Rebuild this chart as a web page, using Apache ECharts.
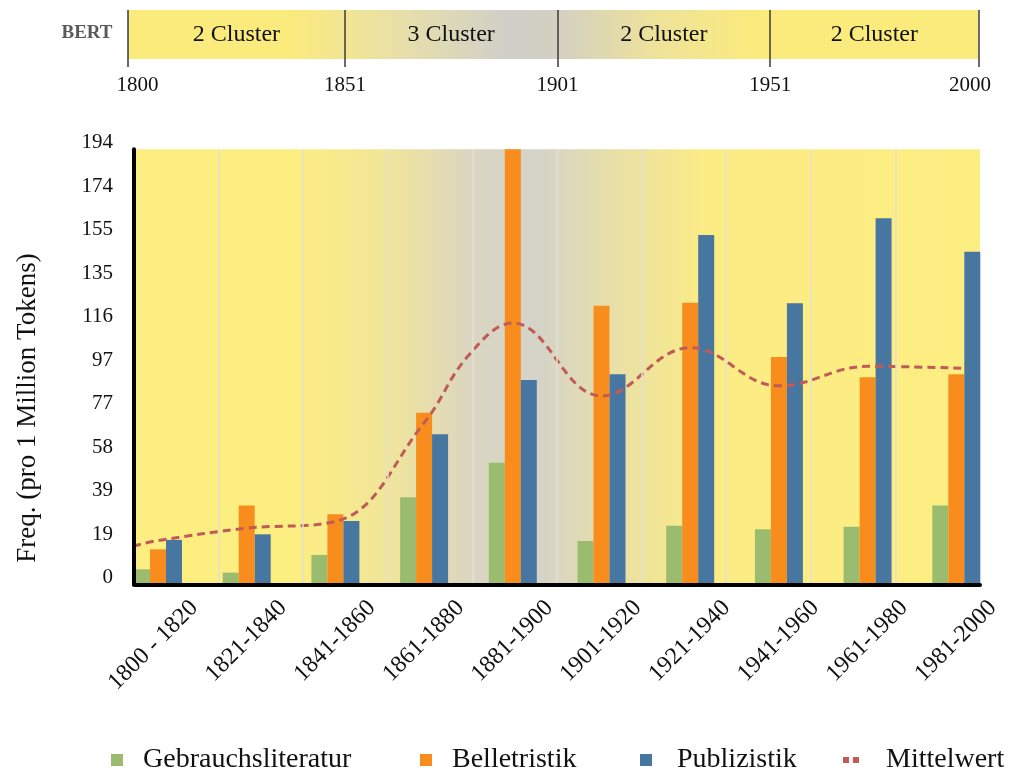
<!DOCTYPE html>
<html>
<head>
<meta charset="utf-8">
<title>BERT Cluster – Frequenz pro Zeitraum</title>
<script src="https://cdn.jsdelivr.net/npm/echarts@6/dist/echarts.min.js"></script>
<style>
  html, body { margin: 0; padding: 0; background: #ffffff; }
  #chart { width: 1011px; height: 773px; }
</style>
</head>
<body>
<div id="chart"></div>
<script>
// ---- data ----
const categories = ['1800 - 1820', '1821-1840', '1841-1860', '1861-1880', '1881-1900',
                    '1901-1920', '1921-1940', '1941-1960', '1961-1980', '1981-2000'];
const gebrauchsliteratur = [6.7, 5.2, 13.1, 38.8, 54.2, 19.3, 26.1, 24.5, 25.7, 35.1];
const belletristik       = [15.6, 35.1, 31.2, 76.5, 194, 124.2, 125.6, 101.4, 92.3, 93.7];
const publizistik        = [19.8, 22.3, 28.2, 66.9, 91.1, 93.7, 155.8, 125.3, 163.2, 148.3];
// Mittelwert curve as [position on the period scale (0 = first period), value]
const mittelwert = [[-0.28, 17], [0, 19.5], [1, 25], [2, 28], [3, 72], [3.5, 102], [4, 116.5],
                    [5, 84], [6, 105.5], [7, 88.5], [8, 97.2], [9.12, 96.3]];
const yTickLabels = [0, 19, 39, 58, 77, 97, 116, 135, 155, 174, 194];
const bandYears = [1800, 1851, 1901, 1951, 2000];
const bandClusters = ['2 Cluster', '3 Cluster', '2 Cluster', '2 Cluster'];

// ---- styling ----
const SERIF = '"Liberation Serif", "Times New Roman", serif';
const INK = '#111111';
const Y_MAX = 194, Y_STEP = 19.4;
const COLORS = { green: '#9BBB6E', orange: '#F88D1E', blue: '#4776A1', mean: '#C05B57' };
const LABEL_SHIFT = 0.41;        // rotated period labels sit a little right of each group

const YELLOW = '#FDEE82', GREY = '#D5D3C8';
const plotGradient = new echarts.graphic.LinearGradient(0, 0, 1, 0, [
  { offset: 0, color: YELLOW }, { offset: 0.19, color: YELLOW },
  { offset: 0.30, color: '#F1E59A' }, { offset: 0.40, color: '#DAD6C2' },
  { offset: 0.48, color: GREY }, { offset: 0.57, color: '#E9E0A6' },
  { offset: 0.68, color: '#FCEC84' }, { offset: 1, color: YELLOW }
]);
const bandGradient = new echarts.graphic.LinearGradient(0, 0, 1, 0, [
  { offset: 0, color: '#FBEB7D' }, { offset: 0.19, color: '#FBEB7D' },
  { offset: 0.33, color: '#E6DEAC' }, { offset: 0.45, color: '#D0CFC9' },
  { offset: 0.51, color: '#D4D1C0' }, { offset: 0.62, color: '#EEE29A' },
  { offset: 0.74, color: '#FBEB7D' }, { offset: 1, color: '#FBEB7D' }
]);

const bandMids = bandClusters.map((name, i) => ({
  name, value: [(bandYears[i] + bandYears[i + 1]) / 2, 0.5]
}));

const PLOT_TOP = 149.3, PLOT_BOTTOM = 188.7;
const legendText = { fontFamily: SERIF, fontSize: 27, color: INK };
const LEGEND_TOP = 741;

const chart = echarts.init(document.getElementById('chart'), null, { renderer: 'canvas' });
chart.setOption({
  animation: false,
  backgroundColor: '#ffffff',
  textStyle: { fontFamily: SERIF },
  grid: [
    { left: 134, right: 31, top: PLOT_TOP, bottom: PLOT_BOTTOM, show: true,
      backgroundColor: plotGradient, borderWidth: 0, outerBoundsMode: 'none' },
    { left: 113.65, right: 10.35, top: PLOT_TOP, bottom: PLOT_BOTTOM, outerBoundsMode: 'none' },
    { left: 128, right: 32.5, top: 10, height: 49, show: true,
      backgroundColor: bandGradient, borderWidth: 0, outerBoundsMode: 'none' }
  ],
  xAxis: [
    { gridIndex: 0, type: 'value', position: 'bottom', min: 0, max: 10, interval: 1, z: 5,
      axisLine: { show: true, onZero: false, lineStyle: { color: '#000', width: 4 } },
      axisTick: { show: false }, axisLabel: { show: false },
      splitLine: { show: true, showMinLine: false, showMaxLine: false,
                   lineStyle: { color: '#E2DFD6', width: 1.5 } } },
    { gridIndex: 1, type: 'category', position: 'bottom', data: categories, show: false },
    { gridIndex: 1, type: 'value', position: 'bottom', min: -0.5, max: 9.5, show: false },
    { gridIndex: 1, type: 'value', position: 'bottom',
      min: -0.5 - LABEL_SHIFT, max: 9.5 - LABEL_SHIFT,
      axisLine: { show: false, onZero: false }, axisTick: { show: false }, splitLine: { show: false },
      axisLabel: { customValues: categories.map((_, i) => i),
                   formatter: v => categories[Math.round(v)] || '',
                   rotate: 45, margin: 20, fontFamily: SERIF, fontSize: 24, color: INK } },
    { gridIndex: 2, type: 'value', position: 'bottom',
      min: bandYears[0], max: bandYears[bandYears.length - 1],
      axisLine: { show: false }, splitLine: { show: false },
      axisTick: { show: true, customValues: bandYears, length: 8,
                  lineStyle: { color: '#3a3a3a', width: 1.5 } },
      axisLabel: { customValues: bandYears, margin: 16, fontFamily: SERIF, fontSize: 21, color: INK,
        formatter: v => v === bandYears[0] ? '{lead|' + v + '}'
                     : v === bandYears[bandYears.length - 1] ? '{tail|' + v + '}' : String(v),
        rich: {
          lead: { padding: [0, 0, 0, 19], fontFamily: SERIF, fontSize: 21, color: INK },
          tail: { padding: [0, 17, 0, 0], fontFamily: SERIF, fontSize: 21, color: INK }
        } } }
  ],
  yAxis: [
    { gridIndex: 0, type: 'value', min: 0, max: Y_MAX, interval: Y_STEP, z: 5,
      axisLine: { show: true, onZero: false, lineStyle: { color: '#000', width: 4 } },
      axisTick: { show: false }, splitLine: { show: false },
      axisLabel: { formatter: v => String(yTickLabels[Math.round(v / Y_STEP)]),
                   margin: 21, verticalAlign: 'bottom', lineHeight: 13,
                   fontFamily: SERIF, fontSize: 21, color: INK } },
    { gridIndex: 1, type: 'value', min: 0, max: Y_MAX, show: false },
    { gridIndex: 2, type: 'value', min: 0, max: 1, show: false }
  ],
  legend: [
    { data: ['Gebrauchsliteratur'], left: 106, top: LEGEND_TOP, icon: 'rect', itemWidth: 12, itemHeight: 12,
      selectedMode: false, textStyle: Object.assign({ padding: [0, 0, 0, 15] }, legendText, { fontSize: 28 }) },
    { data: ['Belletristik'], left: 415, top: LEGEND_TOP, icon: 'rect', itemWidth: 12, itemHeight: 12,
      selectedMode: false, textStyle: Object.assign({ padding: [0, 0, 0, 15] }, legendText, { fontSize: 28 }) },
    { data: ['Publizistik'], left: 635, top: LEGEND_TOP, icon: 'rect', itemWidth: 12, itemHeight: 12,
      selectedMode: false, textStyle: Object.assign({ padding: [0, 0, 0, 20] }, legendText, { fontSize: 28 }) },
    { data: [{ name: 'Mittelwert', icon: 'path://M0,0h6v6h-6zM10,0h6v6h-6z' }],
      left: 838, top: LEGEND_TOP, itemWidth: 16, itemHeight: 12,
      lineStyle: { width: 0, opacity: 0 },
      selectedMode: false, textStyle: Object.assign({ padding: [0, 0, 0, 22] }, legendText, { fontSize: 28 }) }
  ],
  graphic: [
    { type: 'text', x: 87, y: 33, silent: true,
      style: { text: 'BERT', font: 'bold 19px ' + SERIF, fill: '#595959',
               align: 'center', verticalAlign: 'middle' } },
    { type: 'text', x: 28, y: 408, rotation: Math.PI / 2, silent: true,
      style: { text: 'Freq. (pro 1 Million Tokens)', font: '27px ' + SERIF, fill: INK,
               align: 'center', verticalAlign: 'middle' } }
  ],
  series: [
    { name: 'Gebrauchsliteratur', type: 'bar', xAxisIndex: 1, yAxisIndex: 1,
      data: gebrauchsliteratur, barWidth: 16, barGap: '0%', itemStyle: { color: COLORS.green } },
    { name: 'Belletristik', type: 'bar', xAxisIndex: 1, yAxisIndex: 1,
      data: belletristik, barWidth: 16, barGap: '0%', itemStyle: { color: COLORS.orange } },
    { name: 'Publizistik', type: 'bar', xAxisIndex: 1, yAxisIndex: 1,
      data: publizistik, barWidth: 16, barGap: '0%', itemStyle: { color: COLORS.blue } },
    { name: 'Mittelwert', type: 'line', xAxisIndex: 2, yAxisIndex: 1, data: mittelwert,
      smooth: 0.4, symbol: 'none', z: 4,
      itemStyle: { color: COLORS.mean },
      lineStyle: { color: COLORS.mean, width: 3, type: [8, 5] } },
    { name: 'BERT', type: 'scatter', xAxisIndex: 4, yAxisIndex: 2, data: bandMids,
      symbolSize: 1, itemStyle: { color: 'transparent', opacity: 1 }, silent: true,
      label: { show: true, position: 'inside', formatter: '{b}', opacity: 1,
               fontFamily: SERIF, fontSize: 24, color: INK },
      markLine: { silent: true, symbol: ['none', 'none'], label: { show: false },
                  lineStyle: { color: '#3a3a3a', width: 1.5, type: 'solid' },
                  data: bandYears.map(y => ({ xAxis: y })) } }
  ]
});
</script>
</body>
</html>
